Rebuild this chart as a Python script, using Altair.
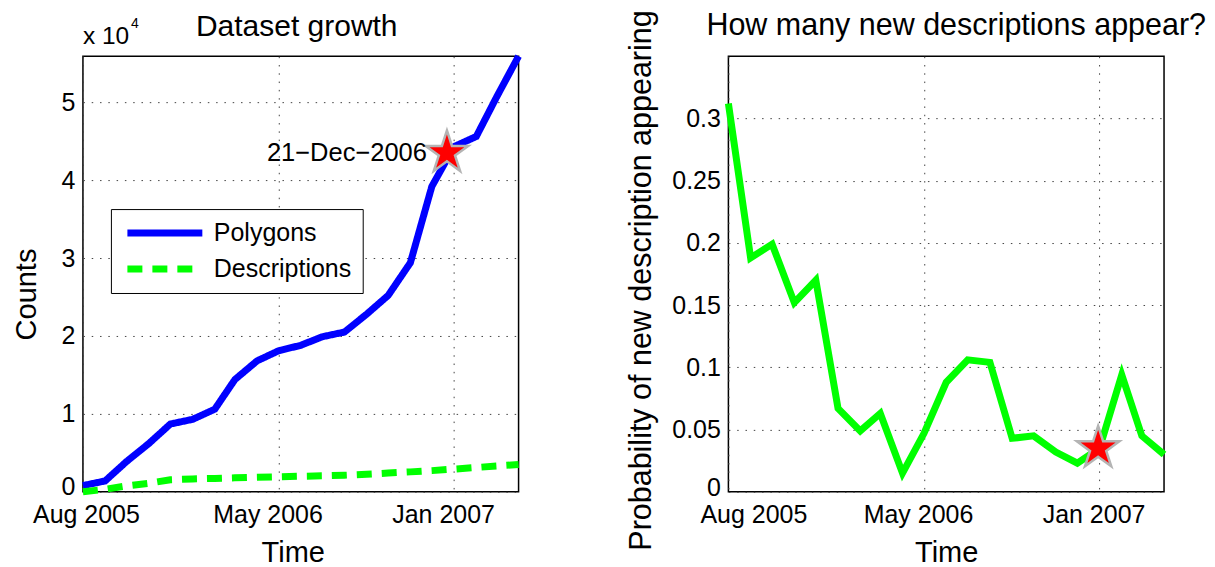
import altair as alt
import pandas as pd

FONT = "Liberation Sans"

# ---- data ----
dates = [
    "2005-08-01", "2005-09-01", "2005-10-01", "2005-11-01", "2005-12-01",
    "2006-01-01", "2006-02-01", "2006-03-01", "2006-04-01", "2006-05-01",
    "2006-06-01", "2006-07-01", "2006-08-01", "2006-09-01", "2006-10-01",
    "2006-11-01", "2006-12-01", "2007-01-01", "2007-02-01", "2007-03-01",
    "2007-04-01",
]
polygons = [800, 1400, 3900, 6200, 8700, 9300, 10600, 14400, 16800, 18100,
            18800, 19900, 20500, 22800, 25200, 29400, 39200, 44300, 45600,
            50600, 55900]
descriptions = [0, 330, 760, 1100, 1550, 1650, 1720, 1800, 1870, 1930,
                2000, 2050, 2130, 2260, 2410, 2560, 2720, 2920, 3120,
                3320, 3500]
probability = [0.312, 0.188, 0.199, 0.152, 0.170, 0.067, 0.049, 0.063,
               0.015, 0.047, 0.088, 0.106, 0.104, 0.043, 0.045, 0.032,
               0.023, 0.035, 0.094, 0.045, 0.030]

series_names = ["Polygons", "Descriptions"]
series_colors = ["#0000ff", "#00ff00"]
series_dashes = [[1, 0], [15, 10]]

star_label = "21\u2212Dec\u22122006"
star_left_date = ["2006-12-22"]
star_left_value = [43500]
star_right_date = ["2006-12-30"]
star_right_value = [0.035]

x_ticks = [(2005, 8, 1), (2006, 5, 1), (2007, 1, 1)]
y_left_ticks = [0, 10000, 20000, 30000, 40000, 50000]
y_left_max = 55900
y_right_ticks = [0, 0.05, 0.1, 0.15, 0.2, 0.25, 0.3]
y_right_max = 0.35

STAR = ("M0,-1L0.2245,-0.309L0.951,-0.309L0.363,0.118L0.588,0.809L0,0.382"
        "L-0.588,0.809L-0.363,0.118L-0.951,-0.309L-0.2245,-0.309Z")

# ---- tables ----
growth = pd.DataFrame({
    "date": dates * 2,
    "count": polygons + descriptions,
    "series": [series_names[0]] * len(dates) + [series_names[1]] * len(dates),
})
prob = pd.DataFrame({"date": dates, "p": probability})
star_l = pd.DataFrame({"date": star_left_date, "count": star_left_value,
                       "label": [star_label]})
star_r = pd.DataFrame({"date": star_right_date, "p": star_right_value})
mult_txt = pd.DataFrame({"t": ["x 10"]})
sup_txt = pd.DataFrame({"t": ["4"]})

tick_vals = [alt.DateTime(year=y, month=m, date=d, utc=True) for y, m, d in x_ticks]


def x_enc(aug_off, other_off, title_x=None):
    kw = {}
    if title_x is not None:
        kw["titleX"] = title_x
    return alt.X(
        "date:T",
        scale=alt.Scale(type="utc", nice=False),
        axis=alt.Axis(
            values=tick_vals,
            labelExpr="utcFormat(datum.value, '%b %Y')",
            title="Time",
            labelPadding=11,
            titlePadding=11,
            labelAngle=0,
            labelFlush=False,
            labelOverlap=False,
            labelOffset={"condition": {"test": "utcmonth(datum.value) == 7",
                                       "value": aug_off},
                         "value": other_off},
            **kw,
        ),
    )


yl = alt.Y(
    "count:Q",
    scale=alt.Scale(domain=[0, y_left_max], nice=False, zero=True),
    axis=alt.Axis(
        values=y_left_ticks,
        labelExpr="format(datum.value / 10000, 'd')",
        title="Counts",
        labelPadding=8,
        titlePadding=20,
        titleY=238,
        labelOffset={"condition": {"test": "datum.value == 0", "value": -5},
                     "value": 0},
    ),
)
yr = alt.Y(
    "p:Q",
    scale=alt.Scale(domain=[0, y_right_max], nice=False, zero=True),
    axis=alt.Axis(
        values=y_right_ticks,
        format="~g",
        title="Probability of new description appearing",
        titleFontSize=30.5,
        labelPadding=8,
        titlePadding=15,
        titleY=224,
        labelOffset={"condition": {"test": "datum.value == 0", "value": -4},
                     "value": 0},
    ),
)

leg = alt.Legend(
    title=None, orient="none", legendX=28, legendY=153,
    symbolType="stroke", symbolSize=5625, symbolStrokeWidth=7,
    labelFontSize=25, labelFont=FONT, labelColor="black",
    clipHeight=26, rowPadding=10, padding=11, symbolOffset=2, labelOffset=8,
    strokeColor="black", fillColor="white",
)

xl = x_enc(3, -11, title_x=210)
xr = x_enc(25, -6)

lines = alt.Chart(growth).mark_line(strokeWidth=7).encode(
    x=xl, y=yl,
    color=alt.Color("series:N", scale=alt.Scale(domain=series_names, range=series_colors), legend=leg),
    strokeDash=alt.StrokeDash("series:N", scale=alt.Scale(domain=series_names, range=series_dashes), legend=leg),
)
star_left = alt.Chart(star_l).mark_point(
    shape=STAR, filled=True, fill="#ff0000", stroke="#b4b4b4",
    strokeWidth=2.5, size=2000, opacity=1,
).encode(x=xl, y=yl)
star_text = alt.Chart(star_l).mark_text(
    align="right", baseline="middle", dx=-20, fontSize=25.5, font=FONT, color="black",
).encode(x=xl, y=yl, text="label:N")
mult = alt.Chart(mult_txt).mark_text(
    align="left", baseline="alphabetic", fontSize=24.5, font=FONT, color="black",
).encode(x=alt.value(0), y=alt.value(-12), text="t:N")
sup = alt.Chart(sup_txt).mark_text(
    align="left", baseline="alphabetic", fontSize=14, font=FONT, color="black",
).encode(x=alt.value(48), y=alt.value(-28), text="t:N")

left = alt.layer(lines, star_left, star_text, mult, sup).properties(
    width=436, height=436,
    title=alt.TitleParams("Dataset growth", fontSize=30, font=FONT,
                          fontWeight="normal", color="black", offset=14,
                          dx=-4, dy=39, anchor="middle", frame="group"),
)

prob_line = alt.Chart(prob).mark_line(strokeWidth=7, color="#00ff00").encode(x=xr, y=yr)
star_right = alt.Chart(star_r).mark_point(
    shape=STAR, filled=True, fill="#ff0000", stroke="#b4b4b4",
    strokeWidth=2.5, size=2000, opacity=1,
).encode(x=xr, y=yr)

right = alt.layer(prob_line, star_right).properties(
    width=436, height=436,
    title=alt.TitleParams("How many new descriptions appear?", fontSize=30.5,
                          font=FONT, fontWeight="normal", color="black",
                          offset=14, dx=10, dy=46, anchor="middle", frame="group"),
)

chart = alt.hconcat(left, right, spacing=210, bounds="flush").properties(
    padding={"left": 3, "top": 0, "right": 0, "bottom": 0},
    background="white",
).configure_view(
    stroke="black", strokeWidth=1.5,
).configure_axis(
    labelFont=FONT, titleFont=FONT, labelFontSize=25, titleFontSize=29,
    labelColor="black", titleColor="black", titleFontWeight="normal",
    grid=True, gridDash=[1.5, 6.8], gridColor="#444444", gridWidth=1,
    ticks=False, tickSize=0, domain=False,
)

chart.save("out.html", embed_options={"renderer": "svg", "actions": False})
